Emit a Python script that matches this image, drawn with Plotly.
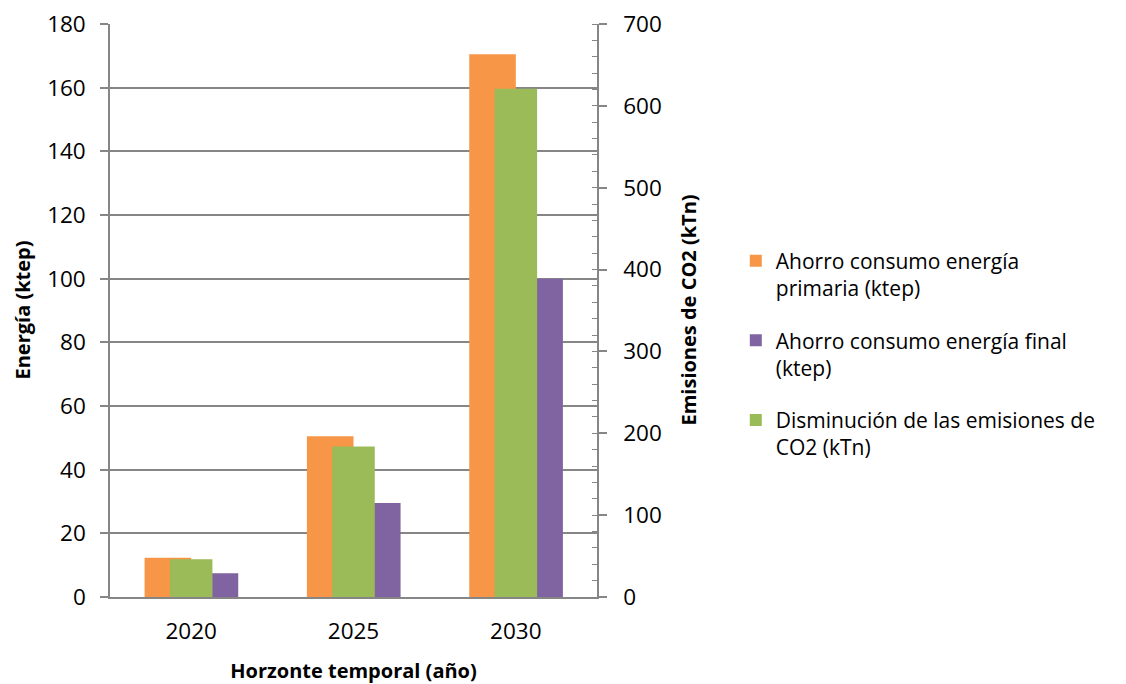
import plotly.graph_objects as go

# Horizonte temporal
years = ["2020", "2025", "2030"]

# Ahorros de energía (ktep) – eje izquierdo
ahorro_primaria = [12.3, 50.5, 170.5]
ahorro_final = [7.5, 29.5, 100.0]

# Disminución de emisiones de CO2 (kTn) – eje derecho
reduccion_co2 = [46, 184, 621]

NAMES = [
    "Ahorro consumo energía<br>primaria (ktep)",
    "Ahorro consumo energía final<br>(ktep)",
    "Disminución de las emisiones de<br>CO2 (kTn)",
]
COLORS = ["#F79646", "#8064A2", "#9BBB59"]
AXIS_GREY = "#868686"
FONT = "Open Sans"

fig = go.Figure()

fig.add_trace(go.Bar(
    x=years, y=ahorro_primaria, name=NAMES[0], legendgroup="a",
    marker=dict(color=COLORS[0], line=dict(width=0)),
    offset=-0.287, width=0.287, yaxis="y",
))
fig.add_trace(go.Bar(
    x=years, y=ahorro_final, name=NAMES[1], legendgroup="b",
    marker=dict(color=COLORS[1], line=dict(width=0)),
    offset=0.0, width=0.29, yaxis="y",
))
fig.add_trace(go.Bar(
    x=years, y=reduccion_co2, name=NAMES[2], legendgroup="c",
    marker=dict(color=COLORS[2], line=dict(width=0)),
    offset=-0.131, width=0.262, yaxis="y2",
))

tick_font = dict(family=FONT, size=22.5, color="#000000")
title_font = dict(family=FONT, size=20, color="#000000", weight="bold")

fig.update_layout(
    width=1126, height=684,
    margin=dict(l=110, r=529, t=24, b=87, autoexpand=False),
    paper_bgcolor="white", plot_bgcolor="white",
    barmode="overlay",
    showlegend=True,
    legend=dict(
        x=1.285, xanchor="left", y=0.622, yanchor="top",
        font=dict(family=FONT, size=21, color="#000000"),
        valign="top", tracegroupgap=22,
        bgcolor="rgba(0,0,0,0)",
    ),
    xaxis=dict(
        type="category", range=[-0.5, 2.5], automargin=False,
        showline=True, linecolor=AXIS_GREY, linewidth=1.5,
        ticks="", showgrid=False, tickfont=tick_font,
        ticklabelstandoff=13,
        title=dict(text="Horzonte temporal (año)", font=title_font, standoff=19),
    ),
    yaxis=dict(
        range=[0, 180], dtick=20, tick0=0, automargin=False,
        showline=True, linecolor=AXIS_GREY, linewidth=1.5,
        ticks="outside", ticklen=8, tickcolor=AXIS_GREY, tickwidth=1.5,
        showgrid=True, gridcolor=AXIS_GREY, gridwidth=1.5,
        zeroline=False, tickfont=tick_font, ticklabelstandoff=10,
    ),
    yaxis2=dict(
        range=[0, 700], dtick=100, tick0=0, automargin=False,
        overlaying="y", side="right",
        showline=True, linecolor=AXIS_GREY, linewidth=1.5,
        ticks="outside", ticklen=8, tickcolor=AXIS_GREY, tickwidth=1.5,
        minor=dict(dtick=20, ticks="inside", ticklen=5,
                   tickcolor=AXIS_GREY, tickwidth=1.2, showgrid=False),
        showgrid=False, zeroline=False, tickfont=tick_font,
        ticklabelstandoff=12,
    ),
    annotations=[
        # vertical axis titles
        dict(text="Energía (ktep)", textangle=-90, font=title_font,
             xref="paper", yref="paper", x=0, y=0.5, xshift=-88,
             xanchor="center", yanchor="middle", showarrow=False),
        dict(text="Emisiones de CO2 (kTn)", textangle=-90, font=title_font,
             xref="paper", yref="paper", x=1, y=0.5, xshift=91,
             xanchor="center", yanchor="middle", showarrow=False),
    ],
)

fig.write_html("out.html")
